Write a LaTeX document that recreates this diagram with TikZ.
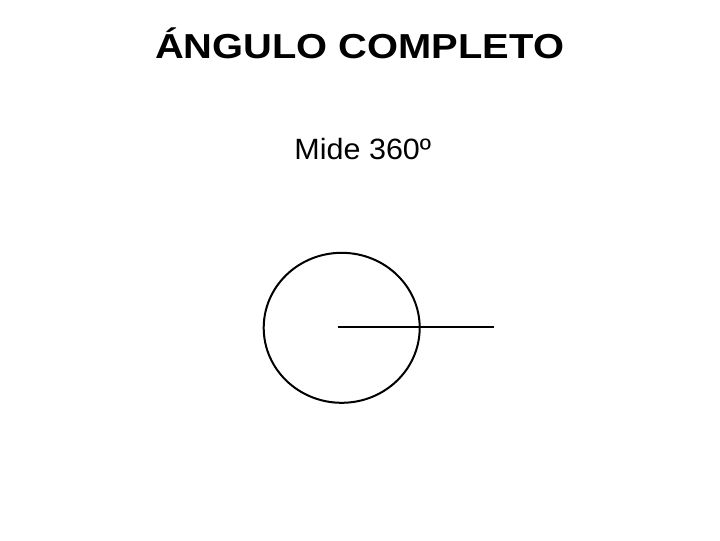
\documentclass[tikz,border=0pt]{standalone}
\usepackage{fontspec}
\usepackage{graphicx}
\setmainfont{Liberation Sans}
\begin{document}
\begin{tikzpicture}[x=0.75pt,y=-0.75pt,
  titletext/.style={font=\bfseries\fontsize{26}{30}\selectfont, anchor=base, inner sep=0pt},
  subtext/.style={font=\fontsize{22}{26}\selectfont, anchor=base, inner sep=0pt},
  shapeline/.style={line width=1.5pt}]
\useasboundingbox (0,0) rectangle (720,540);
\node[titletext] (title) at (359.7,58.3) {\scalebox{1.15}[1]{ÁNGULO COMPLETO}};
\node[subtext] (sub) at (362.8,159.3) {\scalebox{1.04}[1]{Mide 360º}};
\coordinate (c) at (341.7,327.8);
\coordinate (e) at (494,327);
\coordinate (s) at (337.5,327);
\draw[shapeline] (c) ellipse [x radius=78, y radius=75];
\draw[shapeline] (s) -- (e);
\end{tikzpicture}
\end{document}
